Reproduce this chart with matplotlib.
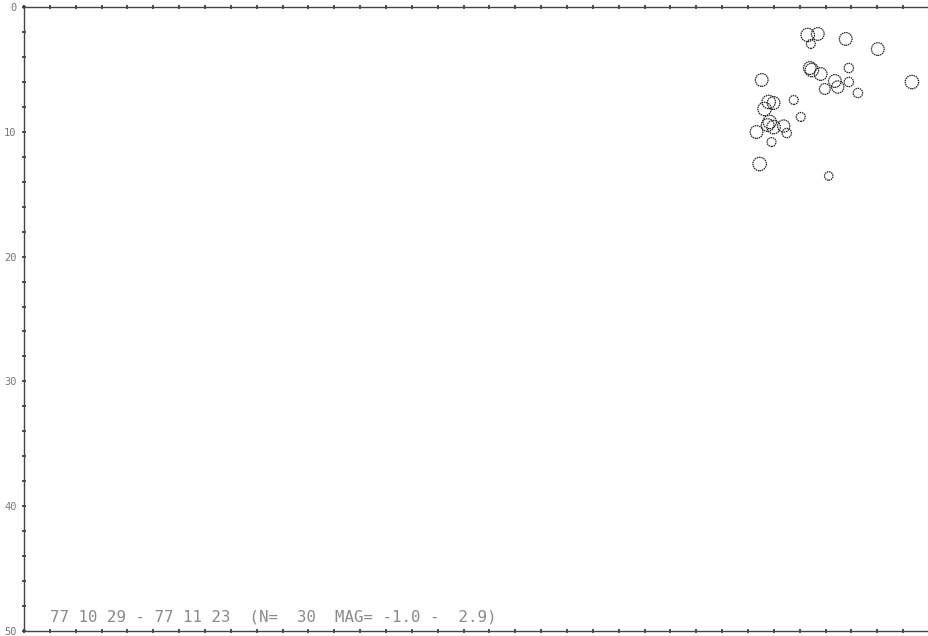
#!/usr/bin/env python3
"""Depth cross-section of located events, plotter style."""

import numpy as np
import matplotlib
matplotlib.use("Agg")
import matplotlib.pyplot as plt

# event positions along the section (x) and depth (km), plus magnitude
dist = [30.31, 30.70, 30.43, 31.78, 33.02, 30.47, 30.39, 30.81, 31.90, 31.36,
        31.90, 30.97, 31.47, 32.25, 34.34, 28.53, 29.77, 28.80, 28.99, 28.64,
        30.04, 28.84, 28.99, 28.76, 28.33, 29.38, 29.50, 28.91, 28.45, 31.12]
depth = [2.24, 2.16, 2.96, 2.56, 3.37, 5.05, 4.89, 5.37, 4.89, 5.93,
         6.01, 6.57, 6.41, 6.89, 6.01, 5.85, 7.45, 7.61, 7.69, 8.17,
         8.81, 9.21, 9.62, 9.46, 10.02, 9.54, 10.10, 10.82, 12.58, 13.54]
mag = [2.9, 2.6, 1.0, 2.6, 2.6, 2.9, 2.6, 2.6, 1.2, 2.6,
       1.2, 1.8, 2.4, 1.2, 2.9, 2.6, 1.0, 2.9, 2.6, 2.9,
       1.0, 2.9, 2.9, 2.6, 2.6, 2.4, 1.2, 1.0, 2.9, 0.8]

y_ticks = np.arange(0, 51, 2)
y_labels = [str(v) if v % 10 == 0 else "" for v in y_ticks]
x_ticks = np.arange(0, 36, 1)

title = "77 10 29 - 77 11 23  (N=  30  MAG= -1.0 -  2.9)"

fig = plt.figure(figsize=(9.29, 6.36), dpi=100)
ax = fig.add_axes([24 / 929, 5 / 636, 905 / 929, 624 / 636])

# circle diameter grows with magnitude
diam_px = 6.5 + 2.4 * np.array(mag)
sizes = (diam_px * 72 / 100) ** 2
ax.scatter(dist, depth, s=sizes, facecolors="none", edgecolors="#222222",
           linewidths=0.9, linestyles=(0, (1.2, 0.6)))

ax.set_xlim(0, 35)
ax.set_ylim(50, 0)

ax.set_yticks(y_ticks)
ax.set_yticklabels(y_labels, fontsize=7.5, color="#777777",
                   family="DejaVu Sans Mono")
ax.set_xticks(x_ticks)
ax.set_xticklabels([])

ax.tick_params(axis="y", direction="inout", length=2.5, width=1.2,
               color="#333333", pad=4)
ax.tick_params(axis="x", direction="inout", length=2.5, width=1.2,
               color="#333333", top=True, bottom=True)

for side in ["left", "top", "bottom"]:
    ax.spines[side].set_linestyle((0, (1, 1)))
    ax.spines[side].set_linewidth(1.0)
    ax.spines[side].set_color("#444444")
ax.spines["right"].set_visible(False)

ax.text(1.0, 49.5, title, fontsize=11.3, color="#8a8a8a",
        family="DejaVu Sans Mono", ha="left", va="bottom")

fig.savefig("out.png", dpi=100)
